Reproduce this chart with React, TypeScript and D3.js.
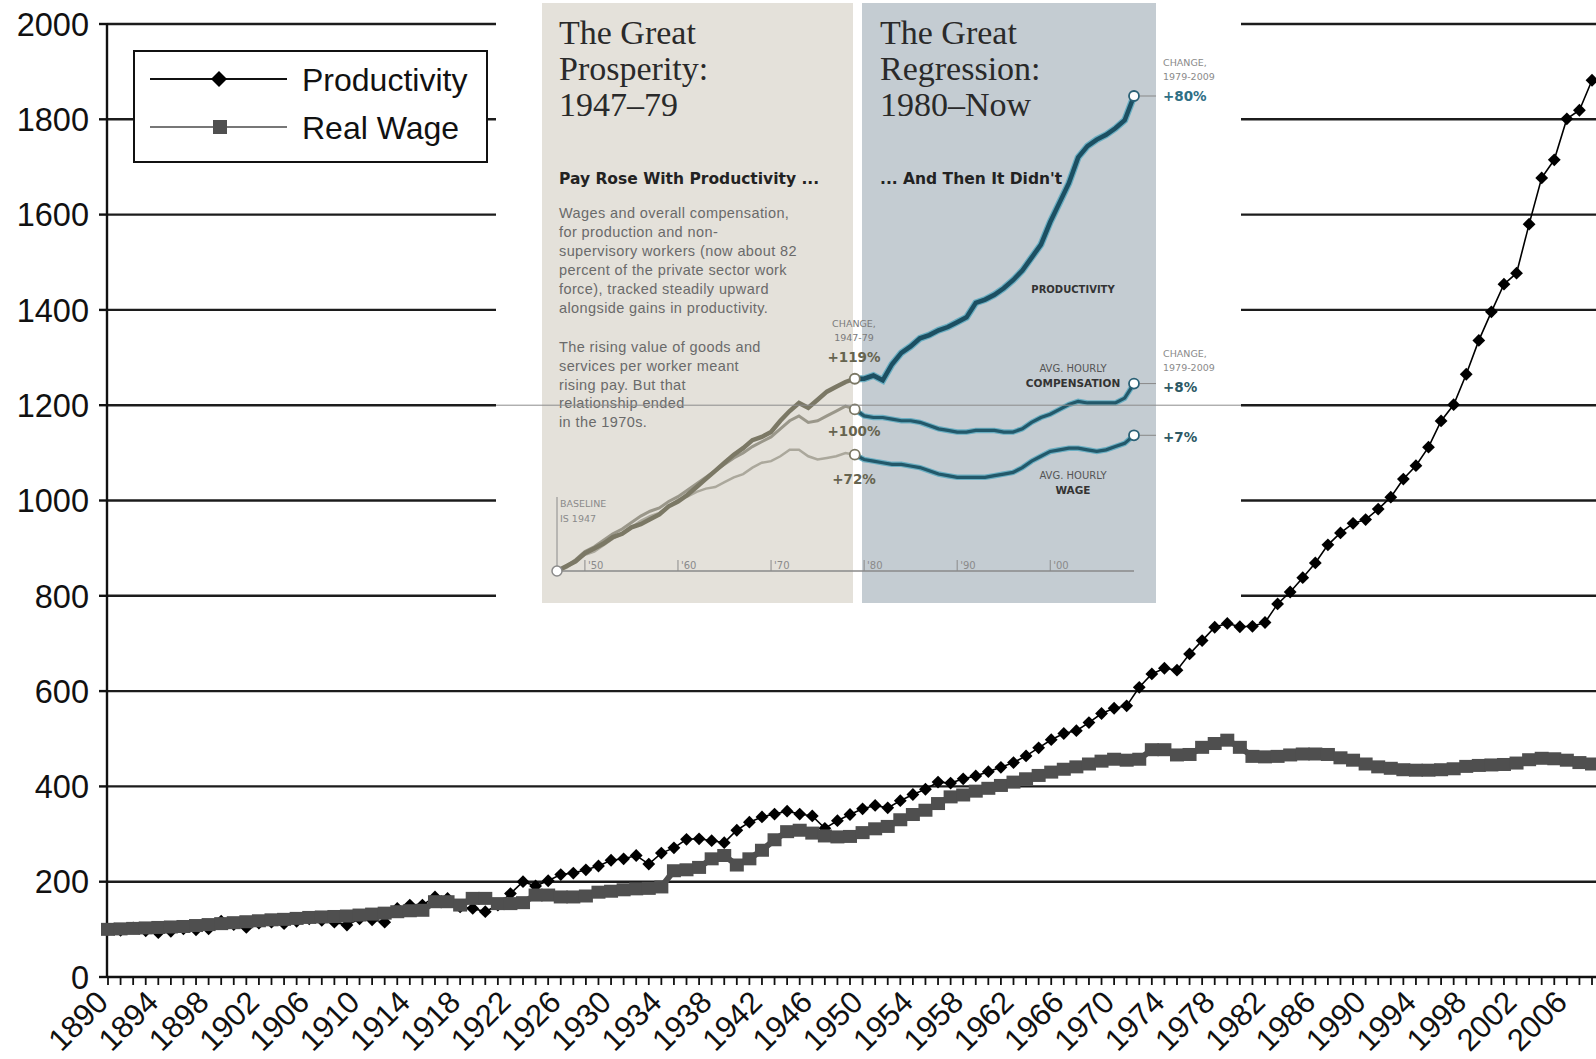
import React from "react";
import * as d3 from "d3";

// ---------------- main chart data ----------------
const firstYear = 1890;
const lastYear = 2008;

const productivity = [
  100, 98, 103, 97, 93, 96, 101, 99, 101, 117,
  110, 104, 113, 115, 112, 117, 122, 119, 115, 109,
  122, 120, 115, 144, 151, 151, 168, 165, 147, 144,
  137, 151, 175, 200, 191, 202, 215, 218, 225, 233,
  245, 248, 255, 237, 260, 271, 289, 290, 286, 282,
  308, 325, 336, 342, 348, 342, 338, 312, 328, 341,
  353, 360, 355, 370, 383, 394, 409, 407, 416, 422,
  431, 440, 450, 464, 481, 498, 511, 517, 534, 553,
  564, 569, 608, 636, 648, 644, 678, 706, 734, 742,
  735, 736, 744, 783, 808, 838, 869, 907, 932, 952,
  960, 982, 1007, 1045, 1073, 1112, 1167, 1201, 1265, 1336,
  1396, 1454, 1477, 1580, 1677, 1715, 1801, 1819, 1882,
];

const realWage = [
  100, 101, 102, 103, 104, 105, 106, 108, 110, 112,
  114, 116, 118, 120, 121, 123, 125, 126, 127, 128,
  130, 132, 134, 137, 139, 140, 158, 158, 151, 165,
  165, 154, 154, 156, 172, 172, 168, 168, 170, 178,
  180, 183, 185, 186, 189, 223, 225, 230, 248, 255,
  235, 248, 266, 288, 305, 308, 302, 296, 294, 295,
  303, 311, 316, 330, 341, 350, 364, 378, 382, 390,
  396, 402, 409, 416, 423, 430, 436, 441, 447, 453,
  457, 455, 457, 477, 477, 466, 467, 482, 490, 497,
  482, 463, 462, 463, 466, 468, 468, 467, 460, 455,
  447, 441, 438, 435, 434, 434, 435, 437, 442, 444,
  445, 446, 449, 456, 459, 458, 455, 450, 447,
];

const yTickValues = [0, 200, 400, 600, 800, 1000, 1200, 1400, 1600, 1800, 2000];
const xLabelYears = [
  1890, 1894, 1898, 1902, 1906, 1910, 1914, 1918, 1922, 1926, 1930, 1934, 1938, 1942, 1946,
  1950, 1954, 1958, 1962, 1966, 1970, 1974, 1978, 1982, 1986, 1990, 1994, 1998, 2002, 2006,
];
const legendLabels = ["Productivity", "Real Wage"];

// ---------------- inset data (index, 1947 = 100) ----------------
const insetFirstYear = 1947;
const insetLastYear = 2009;
const insetSplitYear = 1979;
const insetProductivity = [
  100, 103, 106, 111, 114, 117, 121, 123, 127, 129,
  132, 135, 140, 143, 147, 152, 157, 162, 167, 172,
  176, 181, 183, 186, 193, 199, 204, 201, 206, 211,
  214, 217, 219, 219, 221, 218, 228, 235, 239, 244,
  246, 249, 251, 254, 257, 266, 268, 271, 275, 280,
  286, 294, 302, 316, 328, 340, 356, 363, 367, 370,
  374, 379, 394,
];
const insetCompensation = [
  100, 103, 107, 112, 115, 119, 123, 126, 130, 134,
  137, 139, 143, 146, 150, 154, 158, 162, 166, 170,
  173, 177, 180, 183, 188, 193, 196, 192, 193, 196,
  199, 202, 200, 196, 195, 195, 194, 193, 193, 192,
  190, 188, 187, 186, 186, 187, 187, 187, 186, 186,
  188, 192, 195, 197, 200, 203, 205, 204, 204, 204,
  204, 207, 216,
];
const insetWage = [
  100, 102, 106, 110, 112, 116, 120, 123, 127, 131,
  134, 136, 140, 144, 146, 149, 151, 152, 155, 158,
  160, 164, 167, 168, 171, 175, 175, 171, 169, 170,
  171, 173, 172, 169, 168, 167, 166, 166, 165, 164,
  162, 160, 159, 158, 158, 158, 158, 159, 160, 161,
  164, 168, 171, 174, 175, 176, 176, 175, 174, 175,
  177, 179, 184,
];
const insetDecadeYears = [1950, 1960, 1970, 1980, 1990, 2000];
const insetDecadeLabels = ["'50", "'60", "'70", "'80", "'90", "'00"];
const leftTitle = ["The Great", "Prosperity:", "1947\u201379"];
const rightTitle = ["The Great", "Regression:", "1980\u2013Now"];
const leftSubhead = "Pay Rose With Productivity ...";
const rightSubhead = "... And Then It Didn't";
const paragraph1 = [
  "Wages and overall compensation,",
  "for production and non-",
  "supervisory workers (now about 82",
  "percent of the private sector work",
  "force), tracked steadily upward",
  "alongside gains in productivity.",
];
const paragraph2 = [
  "The rising value of goods and",
  "services per worker meant",
  "rising pay. But that",
  "relationship ended",
  "in the 1970s.",
];
const changeLeft = ["+119%", "+100%", "+72%"];
const changeRight = ["+80%", "+8%", "+7%"];

const SANS = "'Liberation Sans', Arial, Helvetica, sans-serif";
const DJ = "'DejaVu Sans', 'Liberation Sans', sans-serif";
const SERIF = "'Liberation Serif', 'Times New Roman', serif";

function diamond(cx: number, cy: number, s: number) {
  return `M${cx},${cy - s}L${cx + s},${cy}L${cx},${cy + s}L${cx - s},${cy}Z`;
}

export default function App() {
  const W = 1596;
  const H = 1059;
  const x = d3.scaleLinear().domain([firstYear, lastYear]).range([108, 1592]);
  const y = d3.scaleLinear().domain([0, 2000]).range([977, 24]);
  const axisX = 107;
  const allYears = d3.range(firstYear, lastYear + 1);

  const prodPts: [number, number][] = productivity.map((v, i) => [x(firstYear + i), y(v)]);
  const wagePts: [number, number][] = realWage.map((v, i) => [x(firstYear + i), y(v)]);
  const line = d3.line();

  // inset scales
  const ix = d3.scaleLinear().domain([insetFirstYear, insetLastYear]).range([557, 1134]);
  const iy = d3.scaleLinear().domain([100, 394]).range([571, 96]);
  const splitIdx = insetSplitYear - insetFirstYear;
  const pts = (arr: number[]) => arr.map((v, i) => [ix(insetFirstYear + i), iy(v)] as [number, number]);
  const pre = (arr: number[]) => line(pts(arr).slice(0, splitIdx + 1)) || "";
  const post = (arr: number[]) => line(pts(arr).slice(splitIdx)) || "";
  const xs = ix(insetSplitYear);
  const xe = ix(insetLastYear);
  const lastI = insetLastYear - insetFirstYear;

  return (
    <div style={{ position: "absolute", left: 0, top: 0 }}>
      <svg width={W} height={H} style={{ display: "block", background: "#fff" }}>
        <rect x={0} y={0} width={W} height={H} fill="#fff" />

        {/* gridlines */}
        {yTickValues.filter((v) => v > 0).map((v) => (
          <line key={"g" + v} x1={axisX} x2={W} y1={y(v)} y2={y(v)} stroke="#1c1c1c" strokeWidth={2.4} />
        ))}

        {/* y axis */}
        <line x1={axisX} x2={axisX} y1={y(2000) - 1} y2={y(0) + 1} stroke="#111" strokeWidth={2.4} />
        {yTickValues.map((v) => (
          <g key={"yt" + v}>
            <line x1={axisX - 8} x2={axisX} y1={y(v)} y2={y(v)} stroke="#111" strokeWidth={2.4} />
            <text x={89} y={y(v)} dy="0.36em" textAnchor="end" fontFamily={SANS} fontSize={32.5} fill="#111">
              {v}
            </text>
          </g>
        ))}

        {/* x axis */}
        <line x1={axisX} x2={W} y1={y(0)} y2={y(0)} stroke="#111" strokeWidth={2.4} />
        {allYears.map((yr) => (
          <line key={"xt" + yr} x1={x(yr)} x2={x(yr)} y1={y(0)} y2={y(0) + 8} stroke="#111" strokeWidth={1.8} />
        ))}
        {xLabelYears.map((yr) => (
          <text
            key={"xl" + yr}
            transform={`translate(${x(yr) + 2},${y(0) + 27}) rotate(-45)`}
            textAnchor="end"
            fontFamily={SANS}
            fontSize={31}
            fill="#111"
          >
            {yr}
          </text>
        ))}

        {/* productivity series */}
        <path d={line(prodPts) || ""} fill="none" stroke="#000" strokeWidth={1.6} />
        {prodPts.map(([px, py], i) => (
          <path key={"pd" + i} d={diamond(px, py, 6.4)} fill="#000" />
        ))}

        {/* real wage series */}
        <path d={line(wagePts) || ""} fill="none" stroke="#4f4f4f" strokeWidth={6} />
        {wagePts.map(([px, py], i) => (
          <rect key={"ws" + i} x={px - 7} y={py - 6.5} width={14} height={13} fill="#4f4f4f" />
        ))}

        {/* ---------------- inset ---------------- */}
        <g>
          <rect x={496} y={0} width={745} height={604} fill="#fff" />
          <rect x={542} y={3} width={311} height={600} fill="#e4e1da" />
          <rect x={862} y={3} width={294} height={600} fill="#c4ccd2" />

          {/* titles */}
          {leftTitle.map((t, i) => (
            <text key={"lt" + i} x={559} y={44 + i * 36} fontFamily={SERIF} fontSize={34} fill="#2a2a2a">
              {t}
            </text>
          ))}
          {rightTitle.map((t, i) => (
            <text key={"rt" + i} x={880} y={44 + i * 36} fontFamily={SERIF} fontSize={34} fill="#2a2a2a">
              {t}
            </text>
          ))}
          <text x={559} y={184} fontFamily={DJ} fontWeight="bold" fontSize={15.5} fill="#222">
            {leftSubhead}
          </text>
          <text x={880} y={184} fontFamily={DJ} fontWeight="bold" fontSize={15.5} fill="#222">
            {rightSubhead}
          </text>
          {paragraph1.map((t, i) => (
            <text key={"p1" + i} x={559} y={218 + i * 19} fontFamily={SANS} fontSize={14.5} letterSpacing={0.4} fill="#6a6a6a">
              {t}
            </text>
          ))}
          {paragraph2.map((t, i) => (
            <text key={"p2" + i} x={559} y={352 + i * 18.8} fontFamily={SANS} fontSize={14.5} letterSpacing={0.4} fill="#6a6a6a">
              {t}
            </text>
          ))}

          {/* inset axis */}
          <line x1={555} x2={xe} y1={571} y2={571} stroke="#8a8a8a" strokeWidth={1.3} />
          <line x1={557} x2={557} y1={497} y2={571} stroke="#8a8a8a" strokeWidth={1} />
          <text x={560} y={507} fontFamily={DJ} fontSize={9.5} fill="#8a8a8a">BASELINE</text>
          <text x={560} y={522} fontFamily={DJ} fontSize={9.5} fill="#8a8a8a">IS 1947</text>
          {insetDecadeYears.map((yr, i) => (
            <g key={"dec" + yr}>
              <line x1={ix(yr)} x2={ix(yr)} y1={560} y2={571} stroke="#8a8a8a" strokeWidth={1} />
              <text x={ix(yr) + 3} y={569} fontFamily={DJ} fontSize={10} fill="#8a8a8a">
                {insetDecadeLabels[i]}
              </text>
            </g>
          ))}

          {/* pre-1980 lines */}
          <path d={pre(insetWage)} fill="none" stroke="#aba89c" strokeWidth={2.5} />
          <path d={pre(insetCompensation)} fill="none" stroke="#9a978a" strokeWidth={3} />
          <path d={pre(insetProductivity)} fill="none" stroke="#7b7865" strokeWidth={4.5} />

          {/* post-1980 lines */}
          <path d={post(insetWage)} fill="none" stroke="#6aaec2" strokeWidth={5.5} />
          <path d={post(insetWage)} fill="none" stroke="#22586a" strokeWidth={3.2} />
          <path d={post(insetCompensation)} fill="none" stroke="#6aaec2" strokeWidth={5.5} />
          <path d={post(insetCompensation)} fill="none" stroke="#22586a" strokeWidth={3.2} />
          <path d={post(insetProductivity)} fill="none" stroke="#6aaec2" strokeWidth={7} />
          <path d={post(insetProductivity)} fill="none" stroke="#1c4f62" strokeWidth={4.5} />

          {/* circles */}
          <circle cx={ix(insetFirstYear)} cy={iy(100)} r={5} fill="#fff" stroke="#8a8a8a" strokeWidth={1.5} />
          {[insetProductivity, insetCompensation, insetWage].map((arr, i) => (
            <circle key={"c79" + i} cx={xs} cy={iy(arr[splitIdx])} r={5} fill="#fff" stroke="#7b7865" strokeWidth={1.8} />
          ))}
          {[insetProductivity, insetCompensation, insetWage].map((arr, i) => (
            <g key={"c09" + i}>
              <line x1={xe + 6} x2={xe + 22} y1={iy(arr[lastI])} y2={iy(arr[lastI])} stroke="#888" strokeWidth={1} />
              <circle cx={xe} cy={iy(arr[lastI])} r={5} fill="#fff" stroke="#2a6075" strokeWidth={1.8} />
            </g>
          ))}

          {/* left change labels */}
          <text x={854} y={327} textAnchor="middle" fontFamily={DJ} fontSize={9.5} fill="#7a7a7a">CHANGE,</text>
          <text x={854} y={341} textAnchor="middle" fontFamily={DJ} fontSize={9.5} fill="#7a7a7a">1947-79</text>
          <text x={854} y={362} textAnchor="middle" fontFamily={DJ} fontWeight="bold" fontSize={13.5} fill="#66644f">{changeLeft[0]}</text>
          <text x={854} y={436} textAnchor="middle" fontFamily={DJ} fontWeight="bold" fontSize={13.5} fill="#66644f">{changeLeft[1]}</text>
          <text x={854} y={484} textAnchor="middle" fontFamily={DJ} fontWeight="bold" fontSize={13.5} fill="#66644f">{changeLeft[2]}</text>

          {/* series labels */}
          <text x={1073} y={293} textAnchor="middle" fontFamily={DJ} fontWeight="bold" fontSize={10} fill="#333">PRODUCTIVITY</text>
          <text x={1073} y={372} textAnchor="middle" fontFamily={DJ} fontSize={10} fill="#555">AVG. HOURLY</text>
          <text x={1073} y={387} textAnchor="middle" fontFamily={DJ} fontWeight="bold" fontSize={10.5} fill="#333">COMPENSATION</text>
          <text x={1073} y={479} textAnchor="middle" fontFamily={DJ} fontSize={10} fill="#555">AVG. HOURLY</text>
          <text x={1073} y={494} textAnchor="middle" fontFamily={DJ} fontWeight="bold" fontSize={10.5} fill="#333">WAGE</text>

          {/* right change labels */}
          <text x={1163} y={66} fontFamily={DJ} fontSize={9.5} fill="#8a8a8a">CHANGE,</text>
          <text x={1163} y={80} fontFamily={DJ} fontSize={9.5} fill="#8a8a8a">1979-2009</text>
          <text x={1163} y={101} fontFamily={DJ} fontWeight="bold" fontSize={13.5} fill="#2f6f85">{changeRight[0]}</text>
          <text x={1163} y={357} fontFamily={DJ} fontSize={9.5} fill="#8a8a8a">CHANGE,</text>
          <text x={1163} y={371} fontFamily={DJ} fontSize={9.5} fill="#8a8a8a">1979-2009</text>
          <text x={1163} y={392} fontFamily={DJ} fontWeight="bold" fontSize={13.5} fill="#2d5864">{changeRight[1]}</text>
          <text x={1163} y={442} fontFamily={DJ} fontWeight="bold" fontSize={13.5} fill="#2d5864">{changeRight[2]}</text>
        </g>

        {/* thin 1200 gridline through inset */}
        <line x1={496} x2={1241} y1={y(1200)} y2={y(1200)} stroke="#8c8c8c" strokeWidth={1} />

        {/* legend */}
        <g>
          <rect x={134} y={51} width={353} height={111} fill="#fff" stroke="#111" strokeWidth={2} />
          <line x1={150} x2={287} y1={79} y2={79} stroke="#111" strokeWidth={2} />
          <path d={diamond(219, 79, 8)} fill="#000" />
          <text x={302} y={91} fontFamily={SANS} fontSize={32} fill="#111">{legendLabels[0]}</text>
          <line x1={150} x2={287} y1={127} y2={127} stroke="#777" strokeWidth={2} />
          <rect x={213} y={120} width={14} height={14} fill="#4f4f4f" />
          <text x={302} y={139} fontFamily={SANS} fontSize={32} fill="#111">{legendLabels[1]}</text>
        </g>
      </svg>
    </div>
  );
}
